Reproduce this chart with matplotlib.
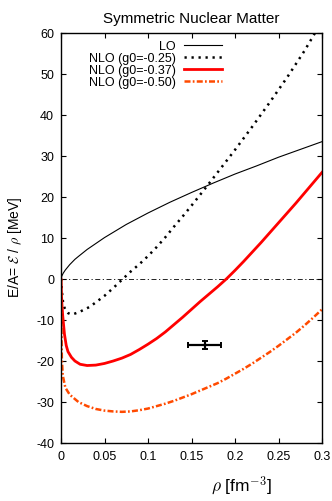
import matplotlib
matplotlib.use("Agg")
import matplotlib.pyplot as plt
from matplotlib.ticker import MultipleLocator, FuncFormatter

plt.rcParams['font.family'] = ['Liberation Sans', 'DejaVu Sans']
plt.rcParams['mathtext.fontset'] = 'cm'

# LO
rho_lo = [0, 0.001, 0.0025, 0.005, 0.01, 0.016, 0.02, 0.03, 0.05, 0.075, 0.1, 0.125,
          0.15, 0.175, 0.2, 0.225, 0.25, 0.275, 0.3]
e_lo = [0, 0.75, 1.4, 2.2, 3.5, 4.8, 5.5, 7.2, 10.1, 13.3, 16.1, 18.7,
        21.1, 23.4, 25.6, 27.6, 29.7, 31.6, 33.5]

# NLO g0=-0.25
rho_g025 = [0, 0.001, 0.0023, 0.004, 0.006, 0.008, 0.01, 0.0138, 0.0215, 0.033, 0.0444,
            0.05, 0.06, 0.07, 0.08, 0.09, 0.1, 0.11, 0.12, 0.13, 0.14, 0.15, 0.165,
            0.18, 0.2, 0.22, 0.24, 0.26, 0.28, 0.29, 0.296]
e_g025 = [0, -3.0, -5.6, -7.0, -7.9, -8.3, -8.5, -8.6, -8.0, -6.8, -5.0,
          -4.1, -2.2, -0.2, 1.8, 3.6, 5.6, 7.8, 10.2, 12.8, 15.3, 17.9, 21.9,
          26.0, 31.5, 37.2, 43.1, 49.2, 55.7, 59.3, 61.5]

# NLO g0=-0.37
rho_g037 = [0, 0.0005, 0.001, 0.002, 0.004, 0.006, 0.008, 0.012, 0.016, 0.022, 0.03,
            0.04, 0.05, 0.06, 0.07, 0.08, 0.09, 0.1, 0.11, 0.12, 0.13, 0.14, 0.15,
            0.16, 0.17, 0.18, 0.19, 0.2, 0.21, 0.22, 0.23, 0.24, 0.25, 0.26, 0.27,
            0.28, 0.29, 0.3]
e_g037 = [0, -3.5, -6.0, -9.0, -13.5, -16.2, -17.7, -19.1, -20.0, -20.8, -21.1,
          -21.0, -20.6, -20.0, -19.3, -18.4, -17.2, -15.9, -14.5, -12.9, -11.1, -9.3, -7.4,
          -5.5, -3.7, -1.9, 0.0, 2.1, 4.3, 6.6, 8.9, 11.3, 13.7, 16.1, 18.5,
          21.0, 23.5, 26.0]

# NLO g0=-0.50
rho_g050 = [0, 0.0003, 0.0006, 0.001, 0.002, 0.005, 0.01, 0.02, 0.03, 0.04, 0.05,
            0.06, 0.07, 0.08, 0.09, 0.1, 0.11, 0.12, 0.13, 0.14, 0.15, 0.16, 0.17,
            0.18, 0.19, 0.2, 0.21, 0.22, 0.23, 0.24, 0.25, 0.26, 0.27, 0.28, 0.29, 0.3]
e_g050 = [0, -7.0, -14.0, -19.5, -23.5, -26.5, -28.2, -30.0, -31.0, -31.7, -32.1,
          -32.3, -32.4, -32.3, -32.0, -31.6, -31.0, -30.4, -29.7, -28.9, -28.1, -27.2, -26.3,
          -25.4, -24.3, -23.1, -21.9, -20.6, -19.2, -17.8, -16.3, -14.7, -13.1, -11.3, -9.4, -7.4]

# empirical saturation point
sat_rho = [0.165]
sat_e = [-16.0]
sat_rho_err = [0.019]
sat_e_err = [1.0]

labels = ['LO', 'NLO (g0=-0.25)', 'NLO (g0=-0.37)', 'NLO (g0=-0.50)']
xticks = [0, 0.05, 0.1, 0.15, 0.2, 0.25, 0.3]
xticklabels = ['0', '0.05', '0.1', '0.15', '0.2', '0.25', '0.3']

fig = plt.figure(figsize=(3.32, 5.02), dpi=100)
ax = fig.add_axes([61 / 332, 58 / 502, 261 / 332, 410 / 502])

ax.axhline(0, color='black', lw=0.6, dashes=(6, 3, 1.5, 3), zorder=1)
ax.plot(rho_lo, e_lo, color='black', lw=0.8, label=labels[0])
ax.plot(rho_g025, e_g025, color='black', lw=1.8, dashes=(0.9, 1.9), label=labels[1])
ax.plot(rho_g037, e_g037, color='#ff0000', lw=2.0, label=labels[2])
ax.plot(rho_g050, e_g050, color='#ff4a00', lw=1.8, dashes=(2.4, 0.9, 0.7, 0.9), label=labels[3])
ax.errorbar(sat_rho, sat_e, xerr=sat_rho_err, yerr=sat_e_err, fmt='none',
            ecolor='black', elinewidth=1.6, capsize=2.5, capthick=1.4)

ax.set_xlim(0, 0.3)
ax.set_ylim(-40, 60)
ax.set_xticks(xticks)
ax.set_xticklabels(xticklabels)
ax.yaxis.set_major_locator(MultipleLocator(10))
ax.yaxis.set_major_formatter(FuncFormatter(lambda v, p: '%d' % v))
ax.tick_params(direction='in', top=True, right=True, length=3.5, width=0.8,
               labelsize=9, pad=5)
for s in ax.spines.values():
    s.set_linewidth(1.0)

ax.set_title('Symmetric Nuclear Matter', fontsize=11, pad=8)
ax.set_ylabel(r'E/A= $\mathcal{E}$ / $\rho$ [MeV]', fontsize=10)
ax.yaxis.set_label_coords(-0.14, 0.48)
ax.set_xlabel(r'$\rho$ [fm$^{-3}$]', fontsize=12.5)
ax.xaxis.set_label_coords(0.69, -0.075)

ax.legend(loc='upper right', bbox_to_anchor=(0.645, 1.0), markerfirst=False,
          frameon=False, fontsize=9, handlelength=3.0, handletextpad=0.7,
          labelspacing=0.0, borderpad=0.1)

fig.savefig('out.png', dpi=100)
